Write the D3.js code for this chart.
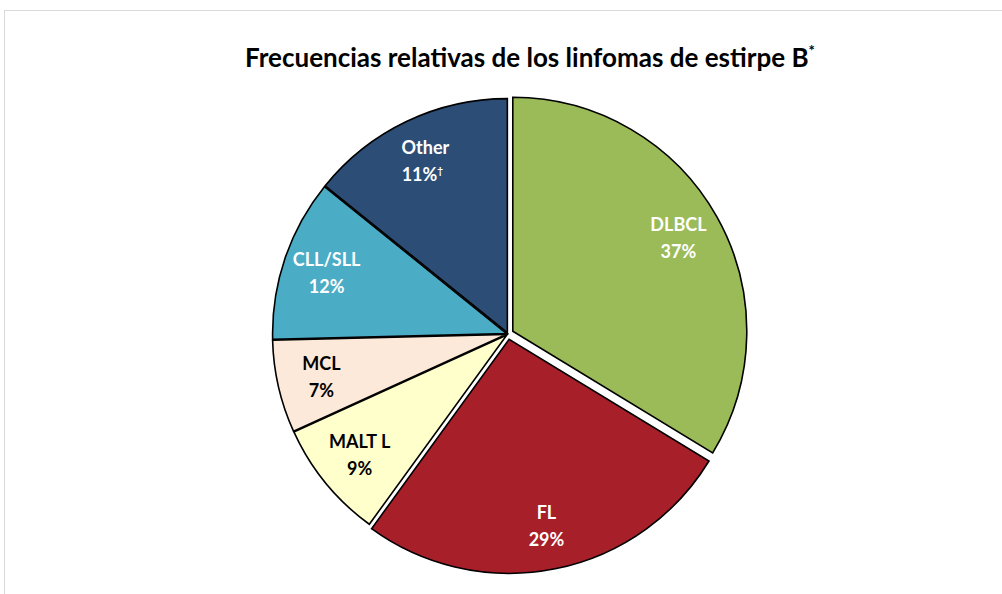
<!DOCTYPE html>
<html>
<head>
<meta charset="utf-8">
<script src="https://cdn.jsdelivr.net/npm/d3@7"></script>
<style>
  body { margin: 0; background: #fff; }
  text { font-family: Lato, "Open Sans", sans-serif; font-weight: bold; }
</style>
</head>
<body>
<div id="container"></div>
<script>
// slice data (angles), printed labels kept separately
var categories = ["DLBCL", "FL", "MALT L", "MCL", "CLL/SLL", "Other"];
var shares = [33.7, 26.3, 8.2, 6.4, 11.2, 14.2];
var pctLabels = ["37%", "29%", "9%", "7%", "12%", "11%"];
var colors = ["#9bbb59", "#a61f29", "#ffffcc", "#fde9d9", "#4bacc6", "#2c4d76"];
var textColors = ["#fff", "#fff", "#000", "#000", "#fff", "#fff"];
var explode = [5.5, 5.5, 1.5, 1.5, 1.5, 1.5];

var width = 1002,
    height = 594;

var cx = 508, cy = 334,
    radius = 234,
    labelRadius = 190;

var svg = d3.select("#container").append("svg")
    .attr("width", width)
    .attr("height", height);

// chart area frame (only top and left edges visible)
svg.append("rect")
    .attr("x", 4.5)
    .attr("y", 10.5)
    .attr("width", 1200)
    .attr("height", 800)
    .attr("fill", "none")
    .attr("stroke", "#d9d9d9")
    .attr("stroke-width", 1);

// title
var title = svg.append("text")
    .attr("x", 530)
    .attr("y", 67)
    .attr("text-anchor", "middle")
    .attr("font-size", 26)
    .attr("fill", "#000");
title.append("tspan").text("Frecuencias relativas de los linfomas de estirpe B");
title.append("tspan").attr("dy", -11).attr("font-size", 15).text("*");

var pie = d3.pie().sort(null).value(d => d.value);
var arc = d3.arc().innerRadius(0).outerRadius(radius);

var data = categories.map((c, i) => ({
    name: c, value: shares[i], pct: pctLabels[i],
    color: colors[i], tc: textColors[i], off: explode[i]
}));

var arcs = pie(data);

var g = svg.append("g")
    .attr("transform", "translate(" + cx + "," + cy + ")");

var slices = g.selectAll("g.slice")
    .data(arcs)
    .enter().append("g")
    .attr("class", "slice")
    .attr("transform", function(d) {
        var a = (d.startAngle + d.endAngle) / 2;
        return "translate(" + (Math.sin(a) * d.data.off) + "," + (-Math.cos(a) * d.data.off) + ")";
    });

slices.append("path")
    .attr("d", arc)
    .attr("fill", d => d.data.color)
    .attr("stroke", "#000")
    .attr("stroke-width", 1.6)
    .attr("stroke-linejoin", "miter");

// labels
var labels = slices.append("text")
    .attr("text-anchor", "middle")
    .attr("font-size", 18)
    .attr("fill", d => d.data.tc)
    .attr("transform", function(d) {
        var a = (d.startAngle + d.endAngle) / 2;
        return "translate(" + (Math.sin(a) * labelRadius) + "," + (-Math.cos(a) * labelRadius) + ")";
    });

labels.append("tspan")
    .attr("x", 0)
    .attr("y", -7)
    .text(d => d.data.name);

labels.append("tspan")
    .attr("x", 0)
    .attr("y", 20)
    .text(d => d.data.pct);

// dagger on "Other"
labels.filter(d => d.data.name === "Other")
    .each(function() {
        var t = d3.select(this);
        t.select("tspan:last-child").attr("x", -3);
        t.append("tspan")
            .attr("dy", -7)
            .attr("font-size", 10)
            .text("\u2020");
    });
</script>
</body>
</html>
